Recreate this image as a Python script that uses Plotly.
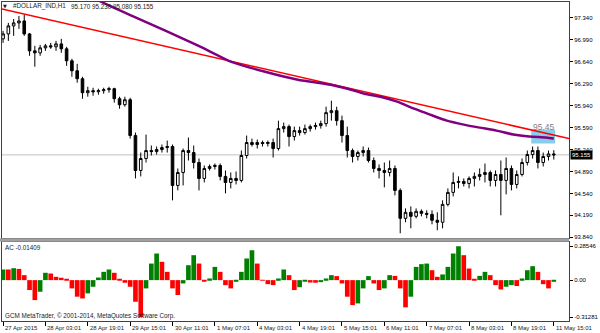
import plotly.graph_objects as go

# ---------------- data ----------------
bar_index = list(range(105))

open_ = [97.006, 97.085, 97.213, 97.261, 97.292, 97.085, 96.815, 96.783, 96.863, 96.895,
         96.879, 96.926, 96.847, 96.656, 96.497, 96.370, 96.147, 96.179, 96.163, 96.179,
         96.195, 96.211, 96.051, 95.956, 96.035, 95.463, 94.906, 95.097, 95.224, 95.208,
         95.240, 95.272, 95.288, 94.667, 94.874, 95.224, 95.192, 95.033, 94.779, 94.938,
         94.970, 94.986, 94.811, 94.715, 94.779, 94.747, 95.145, 95.352, 95.320, 95.352,
         95.336, 95.352, 95.256, 95.574, 95.606, 95.447, 95.542, 95.511, 95.574, 95.606,
         95.622, 95.654, 95.829, 95.861, 95.701, 95.463, 95.224, 95.129, 95.192, 95.224,
         95.065, 94.938, 94.906, 94.874, 94.938, 94.588, 94.142, 94.238, 94.174, 94.254,
         94.222, 94.206, 94.111, 94.079, 94.365, 94.556, 94.715, 94.731, 94.699, 94.779,
         94.811, 94.842, 94.874, 94.747, 94.842, 94.747, 94.938, 94.683, 94.842, 95.033,
         95.161, 95.224, 95.033, 95.129, 95.170]
high = [97.133, 97.261, 97.324, 97.372, 97.388, 97.101, 96.895, 96.911, 96.926, 96.942,
        96.974, 97.006, 96.879, 96.688, 96.608, 96.401, 96.242, 96.226, 96.211, 96.226,
        96.242, 96.226, 96.083, 96.083, 96.067, 95.511, 95.192, 95.479, 95.304, 95.288,
        95.320, 95.383, 95.320, 94.938, 95.256, 95.431, 95.304, 95.097, 94.986, 95.002,
        95.017, 95.017, 94.906, 94.874, 94.890, 95.224, 95.463, 95.415, 95.399, 95.383,
        95.383, 95.415, 95.701, 95.670, 95.638, 95.606, 95.606, 95.638, 95.638, 95.670,
        95.701, 95.924, 96.020, 95.924, 95.781, 95.606, 95.256, 95.224, 95.288, 95.272,
        95.113, 95.002, 95.033, 95.065, 94.986, 94.620, 94.301, 94.333, 94.301, 94.285,
        94.270, 94.270, 94.238, 94.429, 94.620, 94.874, 94.811, 94.779, 94.811, 94.874,
        94.938, 95.017, 94.906, 94.906, 95.065, 95.113, 94.986, 94.906, 95.097, 95.224,
        95.288, 95.288, 95.192, 95.224, 95.230]
low = [96.942, 96.974, 97.054, 97.165, 97.054, 96.736, 96.561, 96.736, 96.815, 96.847,
       96.815, 96.783, 96.576, 96.401, 96.306, 96.051, 96.083, 96.099, 96.115, 96.131,
       96.147, 95.988, 95.892, 95.924, 95.415, 94.779, 94.811, 95.033, 95.145, 95.161,
       95.192, 95.192, 94.429, 94.588, 94.667, 95.065, 94.938, 94.588, 94.715, 94.906,
       94.922, 94.747, 94.540, 94.620, 94.683, 94.715, 95.097, 95.288, 95.256, 95.288,
       95.288, 95.113, 95.224, 95.511, 95.288, 95.383, 95.463, 95.479, 95.527, 95.558,
       95.574, 95.606, 95.701, 95.622, 95.352, 95.113, 95.033, 95.065, 95.129, 95.033,
       94.874, 94.779, 94.636, 94.811, 94.508, 93.904, 94.079, 93.983, 94.142, 94.174,
       94.142, 94.047, 93.952, 93.983, 94.333, 94.492, 94.620, 94.651, 94.620, 94.651,
       94.747, 94.715, 94.651, 94.651, 94.190, 94.524, 94.588, 94.620, 94.811, 94.986,
       95.097, 94.938, 94.970, 95.065, 95.080]
close = [97.085, 97.213, 97.261, 97.292, 97.085, 96.815, 96.783, 96.863, 96.895, 96.879,
         96.926, 96.847, 96.656, 96.497, 96.370, 96.147, 96.179, 96.163, 96.179, 96.195,
         96.211, 96.051, 95.956, 96.035, 95.463, 94.906, 95.097, 95.224, 95.208, 95.240,
         95.272, 95.288, 94.667, 94.874, 95.224, 95.192, 95.033, 94.779, 94.938, 94.970,
         94.986, 94.811, 94.715, 94.779, 94.747, 95.145, 95.352, 95.320, 95.352, 95.336,
         95.352, 95.256, 95.574, 95.606, 95.447, 95.542, 95.511, 95.574, 95.606, 95.622,
         95.654, 95.829, 95.861, 95.701, 95.463, 95.224, 95.129, 95.192, 95.224, 95.065,
         94.938, 94.906, 94.874, 94.938, 94.588, 94.142, 94.238, 94.174, 94.254, 94.222,
         94.206, 94.111, 94.079, 94.365, 94.556, 94.715, 94.731, 94.699, 94.779, 94.811,
         94.842, 94.874, 94.747, 94.842, 94.747, 94.938, 94.683, 94.842, 95.033, 95.161,
         95.224, 95.033, 95.129, 95.170, 95.155]

ac_values = [0.090, 0.090, 0.101, 0.095, 0.042, -0.084, -0.169, -0.098, 0.062, 0.056,
             0.028, 0.020, 0.006, -0.070, -0.140, -0.155, -0.112, -0.056, 0.022, 0.070,
             0.090, 0.062, 0.006, -0.022, -0.056, -0.183, -0.31281, -0.070, 0.140, 0.225,
             0.155, 0.070, -0.070, -0.126, -0.028, 0.126, 0.211, 0.140, -0.006, 0.014,
             0.112, 0.070, -0.042, -0.070, -0.014, 0.070, 0.183, 0.253, 0.140, -0.005,
             -0.034, -0.042, 0.014, 0.090, 0.042, -0.084, -0.060, -0.008, -0.020, -0.022,
             -0.017, 0.014, 0.042, 0.034, -0.028, -0.140, -0.211, -0.197, -0.070, 0.034,
             -0.028, -0.084, -0.070, 0.042, 0.036, -0.070, -0.230, -0.140, 0.112, 0.135,
             0.140, 0.084, 0.028, 0.048, 0.112, 0.225, 0.28546, 0.211, 0.098, 0.008,
             0.036, 0.070, 0.042, -0.042, -0.079, -0.056, -0.042, -0.050, 0.014, 0.084,
             0.118, 0.070, -0.034, -0.070, -0.01409]

trend_x = [-0.2, 106.87]
trend_y = [97.483, 95.415]

ma_x = [15.36, 18.18, 24.36, 30.74, 36.93, 43.12, 49.49, 55.68, 61.87, 65.05, 68.24, 71.24,
        74.43, 77.62, 80.62, 83.81, 87.0, 90.0, 93.18, 96.37, 99.37, 102.56, 104.0]
ma_y = [97.738, 97.611, 97.372, 97.133, 96.895, 96.640, 96.481, 96.354, 96.274, 96.210,
        96.131, 96.083, 96.004, 95.892, 95.797, 95.701, 95.638, 95.590, 95.542, 95.479,
        95.447, 95.431, 95.415]

price_ticks = [97.34, 96.99, 96.64, 96.29, 95.94, 95.59, 95.24, 94.89, 94.54, 94.19, 93.84]
ac_ticks = [0.28546, 0.0, -0.31281]
ac_tick_text = ["0.28546", "0.00", "-0.31281"]

time_label_idx = [0, 8, 16, 24, 32, 40, 48, 56, 64, 72, 80, 88, 96, 104]
time_labels = ["27 Apr 2015", "28 Apr 03:01", "28 Apr 19:01", "29 Apr 15:01", "30 Apr 11:01",
               "1 May 07:01", "4 May 03:01", "4 May 19:01", "5 May 15:01", "6 May 11:01",
               "7 May 07:01", "8 May 03:01", "8 May 19:01", "11 May 15:01"]

symbol_name = "#DOLLAR_IND,H1"
last_bar_text = "95.170 95.230 95.080 95.155"
last_price = 95.155
zone_x = [99.74, 104.24]
zone_y = [95.336, 95.558]
zone_label = "95.45"
ac_label = "AC -0.01409"
copyright_text = "GCM MetaTrader, © 2001-2014, MetaQuotes Software Corp."

# ---------------- figure ----------------
W, H = 600, 333
ML, MR, MT, MB = 2, 27, 1, 12
PW, PH = W - ML - MR, H - MT - MB


def px_x(px):
    return (px - ML) / PW


def px_y(py):
    return (MT + PH - py) / PH


FONT = "Liberation Sans, Arial, sans-serif"
TXT = "#1a1a1a"

ac_colors = []
for k, v in enumerate(ac_values):
    if k == 0 or v > ac_values[k - 1]:
        ac_colors.append("#008000")
    else:
        ac_colors.append("#ff0000")

fig = go.Figure()

fig.add_trace(go.Candlestick(
    x=bar_index, open=open_, high=high, low=low, close=close,
    increasing=dict(line=dict(color="#000000", width=1), fillcolor="#ffffff"),
    decreasing=dict(line=dict(color="#000000", width=1), fillcolor="#000000"),
    whiskerwidth=0, xaxis="x", yaxis="y", showlegend=False, hoverinfo="skip"))

fig.add_trace(go.Scatter(x=trend_x, y=trend_y, mode="lines",
                         line=dict(color="#ff0000", width=1.5),
                         xaxis="x", yaxis="y", showlegend=False, hoverinfo="skip"))

fig.add_trace(go.Scatter(x=ma_x, y=ma_y, mode="lines",
                         line=dict(color="#800080", width=2.5, shape="spline", smoothing=0.6),
                         xaxis="x", yaxis="y", showlegend=False, hoverinfo="skip"))

fig.add_trace(go.Bar(x=bar_index, y=ac_values, marker=dict(color=ac_colors, line=dict(width=0)),
                     xaxis="x2", yaxis="y2", showlegend=False, hoverinfo="skip"))

main_dom = [px_y(238), 1]
ac_dom = [0, px_y(241.5)]

y_top = 97.6105 - 0.015909 * 1
y_bot = 97.6105 - 0.015909 * 238
ac_top = (280 - 241.5) * 0.00843
ac_bot = (280 - 321) * 0.00843

xr = [-0.2, 106.87]
frame = "#404040"

fig.update_layout(
    width=W, height=H,
    margin=dict(l=ML, r=MR, t=MT, b=MB),
    paper_bgcolor="white", plot_bgcolor="white",
    bargap=0.12,
    font=dict(family=FONT, size=6, color=TXT),
    xaxis=dict(domain=[0, 1], range=xr, showticklabels=False, showgrid=False, zeroline=False,
               showline=True, mirror=True, linecolor=frame, linewidth=1, ticks="",
               rangeslider=dict(visible=False), anchor="y"),
    yaxis=dict(domain=main_dom, range=[y_bot, y_top], side="right", showgrid=False,
               zeroline=False, showline=True, mirror=True, linecolor=frame, linewidth=1,
               tickvals=price_ticks, tickformat=".3f", ticks="outside", ticklen=3,
               tickcolor="#000000", tickfont=dict(family=FONT, size=6, color="#000000"),
               anchor="x"),
    xaxis2=dict(domain=[0, 1], range=xr, showticklabels=False, showgrid=False,
                zeroline=False, showline=True, mirror=True, linecolor=frame, linewidth=1,
                tickvals=time_label_idx, ticks="outside", ticklen=4, tickcolor="#000000",
                anchor="y2"),
    yaxis2=dict(domain=ac_dom, range=[ac_bot, ac_top], side="right", showgrid=False,
                zeroline=False, showline=True, mirror=True, linecolor=frame, linewidth=1,
                tickvals=ac_ticks, ticktext=ac_tick_text, ticks="outside", ticklen=3,
                tickcolor="#000000", tickfont=dict(family=FONT, size=6, color="#000000"),
                anchor="x2"),
)

shapes = [
    dict(type="line", xref="paper", yref="y", x0=0, x1=1, y0=last_price, y1=last_price,
         line=dict(color="#c0c0c0", width=1), layer="below"),
    dict(type="rect", xref="x", yref="y", x0=zone_x[0], x1=zone_x[1], y0=zone_y[0], y1=zone_y[1],
         fillcolor="#87ceeb", line=dict(width=0), layer="below"),
    dict(type="rect", xref="paper", yref="paper", x0=px_x(0), x1=1, y0=px_y(241.5), y1=px_y(238),
         fillcolor="#a0a0a0", line=dict(width=0), layer="above"),
]
fig.update_layout(shapes=shapes)

ann = []
ann.append(dict(text="▼", xref="paper", yref="paper", x=px_x(5.5), y=px_y(5.5),
                xanchor="center", yanchor="middle", showarrow=False,
                font=dict(family="DejaVu Sans", size=5, color=TXT)))
ann.append(dict(text=symbol_name, xref="paper", yref="paper", x=px_x(11), y=px_y(5.5),
                xanchor="left", yanchor="middle", showarrow=False,
                font=dict(family=FONT, size=6.3, color=TXT)))
ann.append(dict(text=last_bar_text, xref="paper", yref="paper", x=px_x(69), y=px_y(5.5),
                xanchor="left", yanchor="middle", showarrow=False,
                font=dict(family=FONT, size=6.3, color=TXT)))
ann.append(dict(text=zone_label, xref="x", yref="y", x=(zone_x[0] + zone_x[1]) / 2 + 0.2,
                y=95.606, xanchor="center", yanchor="middle", showarrow=False,
                font=dict(family=FONT, size=8.5, color="#808080")))
ann.append(dict(text="%.3f" % last_price, xref="paper", yref="y", x=1, y=last_price,
                xanchor="left", yanchor="middle", xshift=1, showarrow=False,
                bgcolor="#000000", borderpad=1,
                font=dict(family=FONT, size=6, color="#ffffff")))
ann.append(dict(text=ac_label, xref="paper", yref="paper", x=px_x(3), y=px_y(247),
                xanchor="left", yanchor="middle", showarrow=False,
                font=dict(family=FONT, size=6.3, color=TXT)))
ann.append(dict(text=copyright_text, xref="paper", yref="paper", x=px_x(3), y=px_y(315.5),
                xanchor="left", yanchor="middle", showarrow=False,
                font=dict(family=FONT, size=6.3, color=TXT)))
for idx, lab in zip(time_label_idx, time_labels):
    ann.append(dict(text=lab, xref="x2", yref="paper", x=idx, y=px_y(328.5),
                    xanchor="left", yanchor="middle", xshift=0, showarrow=False,
                    font=dict(family=FONT, size=6, color=TXT)))
fig.update_layout(annotations=ann)

fig.write_html("out.html")
